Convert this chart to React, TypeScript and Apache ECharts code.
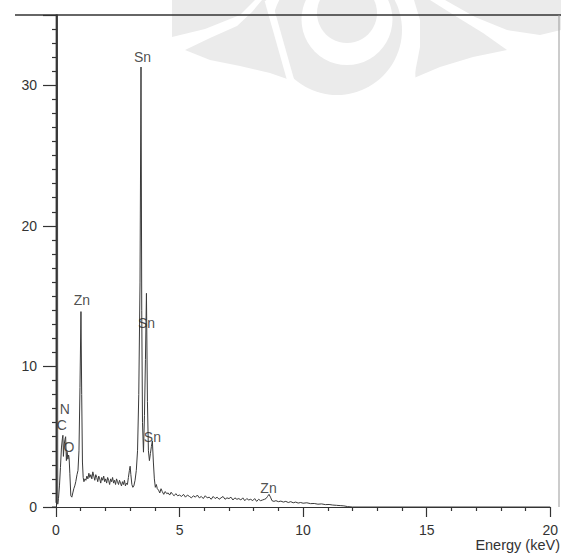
import React, { useEffect, useRef } from 'react';
import * as echarts from 'echarts';

// EDS spectrum (energy in keV, counts in arbitrary units)
const energy = [
  0.0, 0.01, 0.05, 0.07, 0.1, 0.14, 0.18, 0.22, 0.26, 0.28, 0.3, 0.33, 0.36, 0.39, 0.42, 0.45, 0.48, 0.51, 0.53, 0.56,
  0.6, 0.64, 0.68, 0.72, 0.76, 0.8, 0.85, 0.89, 0.93, 0.97, 1.01, 1.04, 1.07, 1.1, 1.13, 1.17, 1.21, 1.25, 1.29, 1.33,
  1.37, 1.41, 1.45, 1.49, 1.53, 1.57, 1.61, 1.65, 1.69, 1.73, 1.77, 1.81, 1.85, 1.89, 1.93, 1.97, 2.01, 2.05, 2.09, 2.13,
  2.17, 2.21, 2.25, 2.29, 2.33, 2.37, 2.41, 2.45, 2.49, 2.53, 2.57, 2.61, 2.65, 2.69, 2.73, 2.77, 2.81, 2.85, 2.89, 2.93,
  2.97, 3.0, 3.03, 3.07, 3.11, 3.15, 3.2, 3.25, 3.3, 3.35, 3.4, 3.44, 3.47, 3.5, 3.54, 3.58, 3.62, 3.66, 3.7, 3.74,
  3.78, 3.82, 3.86, 3.9, 3.94, 3.98, 4.02, 4.06, 4.1, 4.15, 4.2, 4.25, 4.3, 4.36, 4.42, 4.48, 4.54, 4.6, 4.66, 4.72,
  4.78, 4.85, 4.92, 5.0, 5.08, 5.16, 5.24, 5.32, 5.4, 5.48, 5.56, 5.64, 5.72, 5.8, 5.88, 5.96, 6.04, 6.12, 6.2, 6.28,
  6.36, 6.44, 6.52, 6.6, 6.68, 6.76, 6.84, 6.92, 7.0, 7.08, 7.16, 7.24, 7.32, 7.4, 7.48, 7.56, 7.64, 7.72, 7.8, 7.88,
  7.96, 8.04, 8.12, 8.2, 8.28, 8.36, 8.44, 8.5, 8.56, 8.62, 8.68, 8.74, 8.82, 8.9, 9.0, 9.1, 9.2, 9.3, 9.4, 9.5,
  9.6, 9.7, 9.8, 9.9, 10.0, 10.15, 10.3, 10.45, 10.6, 10.75, 10.9, 11.05, 11.2, 11.35, 11.5, 11.65, 11.8, 12.0, 20.0,
];
const counts = [
  0.3, 60, 60, 0.2, 0.6, 1.5, 2.8, 4.2, 4.9, 5.1, 3.6, 4.4, 4.8, 5.0, 3.3, 3.9, 3.4, 3.7, 3.5, 2.4,
  0.8, 0.7, 1.0, 1.3, 1.5, 1.8, 2.3, 2.6, 4.0, 8.5, 13.9, 8.0, 3.2, 2.1, 1.8, 2.0, 1.9, 2.2, 2.0, 2.4,
  2.1, 2.3, 2.0, 2.5, 2.2, 1.9, 2.3, 2.1, 1.8, 2.2, 2.0, 1.7, 2.1, 1.9, 2.2, 1.8, 2.0, 1.7, 2.1, 1.9,
  1.6, 2.0, 1.8, 2.1, 1.7, 1.9, 1.6, 2.0, 1.8, 1.6, 1.9, 1.7, 1.5, 1.8, 1.6, 1.9, 1.5, 1.7, 1.6, 2.1,
  2.6, 2.9, 2.3, 1.6, 1.4, 1.5, 1.9, 2.6, 4.0, 8.0, 16.0, 31.3, 14.0, 6.0, 3.9, 6.5, 10.5, 15.2, 7.5, 4.0,
  3.3, 3.8, 4.3, 4.7, 3.2, 2.0, 1.4, 1.6, 1.3, 1.2, 1.0, 1.3, 1.1, 0.9, 1.1, 0.95, 1.0, 0.85, 1.05, 0.9,
  0.8, 0.95, 0.8, 0.85, 0.75, 0.9, 0.7, 0.85, 0.75, 0.65, 0.8, 0.7, 0.85, 0.65, 0.75, 0.6, 0.8, 0.65, 0.7, 0.55,
  0.75, 0.6, 0.7, 0.55, 0.65, 0.75, 0.55, 0.65, 0.6, 0.7, 0.5, 0.65, 0.55, 0.6, 0.5, 0.65, 0.45, 0.6, 0.5, 0.55,
  0.45, 0.6, 0.4, 0.55, 0.45, 0.5, 0.55, 0.6, 0.75, 0.9, 0.7, 0.45, 0.4, 0.45, 0.38, 0.42, 0.35, 0.4, 0.32, 0.38,
  0.3, 0.35, 0.28, 0.32, 0.27, 0.3, 0.24, 0.25, 0.2, 0.22, 0.17, 0.18, 0.14, 0.12, 0.1, 0.08, 0.03, 0.0, 0.0,
];

// Peak annotations (label centre positions)
const peakNames = ['N', 'C', 'O', 'Zn', 'Sn', 'Sn', 'Sn', 'Zn'];
const peakLabelX = [0.36, 0.24, 0.52, 1.05, 3.5, 3.66, 3.9, 8.6];
const peakLabelY = [7.0, 5.8, 4.3, 14.7, 32.0, 13.1, 5.0, 1.35];

const xMin = 0;
const xMax = 20;
const xStep = 5;
const yMin = 0;
const yMax = 35;
const yStep = 10;
const xTitle = 'Energy (keV)';

const WM = '#ebebeb';
const INK = '#333333';
const FONT = '"Liberation Sans", Arial, sans-serif';

export default function App() {
  const ref = useRef<HTMLDivElement>(null);
  useEffect(() => {
    if (!ref.current) return;
    const chart = echarts.init(ref.current, undefined, { renderer: 'svg' });
    const wmPoly = (points: number[][]) => ({ type: 'polygon', z: -10, silent: true, shape: { points }, style: { fill: WM } });
    chart.setOption({
      animation: false,
      backgroundColor: '#ffffff',
      textStyle: { fontFamily: FONT },
      grid: { left: 56, right: 8, top: 15, bottom: 48, show: false },
      xAxis: {
        type: 'value',
        min: xMin,
        max: xMax,
        interval: xStep,
        axisLine: { show: true, lineStyle: { color: INK, width: 1 } },
        axisTick: { show: true, inside: false, length: 10, lineStyle: { color: INK, width: 1.2 } },
        minorTick: { show: true, splitNumber: 5, length: 4, lineStyle: { color: INK, width: 1.2 } },
        axisLabel: { margin: 16, fontSize: 14, color: INK, fontFamily: FONT },
        splitLine: { show: false },
        minorSplitLine: { show: false },
      },
      yAxis: {
        type: 'value',
        min: yMin,
        max: yMax,
        interval: yStep,
        offset: 4,
        axisLine: { show: true, lineStyle: { color: INK, width: 1 } },
        axisTick: { show: true, inside: false, length: 13, lineStyle: { color: INK, width: 1.2 } },
        minorTick: { show: true, splitNumber: 10, length: 4, lineStyle: { color: INK, width: 1.2 } },
        axisLabel: {
          margin: 15,
          fontSize: 14,
          color: INK,
          fontFamily: FONT,
          formatter: (v: number) => (v % yStep === 0 ? String(v) : ''),
        },
        splitLine: { show: false },
        minorSplitLine: { show: false },
      },
      graphic: [
        // faint watermark of the scanned page
        { type: 'circle', z: -10, silent: true, shape: { cx: 337, cy: 30, r: 65 }, style: { fill: WM } },
        { type: 'circle', z: -9, silent: true, shape: { cx: 347, cy: 19.5, r: 45.5 }, style: { fill: '#ffffff' } },
        { type: 'circle', z: -8, silent: true, shape: { cx: 347, cy: 13, r: 30 }, style: { fill: WM } },
        { type: 'line', z: -8, silent: true, shape: { x1: 268, y1: 0, x2: 292, y2: 85 }, style: { stroke: '#ffffff', lineWidth: 7 } },
        { type: 'line', z: -8, silent: true, shape: { x1: 410, y1: 0, x2: 412, y2: 80 }, style: { stroke: '#ffffff', lineWidth: 7 } },
        wmPoly([[185, 50], [210, 38], [237, 26], [252, 12], [262, 0], [266, 0], [272, 25], [282, 55], [290, 80], [270, 73], [240, 66], [210, 60]]),
        wmPoly([[172, 0], [255, 0], [240, 15], [205, 29], [172, 37]]),
        wmPoly([[414, 0], [430, 0], [457, 17], [483, 33], [507, 50], [473, 57], [440, 67], [414, 78], [420, 47], [420, 20]]),
        wmPoly([[445, 0], [561, 0], [561, 30], [540, 35], [507, 30], [475, 17]]),
        // frame lines of the scan
        { type: 'line', z: 10, silent: true, shape: { x1: 15, y1: 15, x2: 561, y2: 15 }, style: { stroke: INK, lineWidth: 1.5 } },
        { type: 'line', z: 10, silent: true, shape: { x1: 559, y1: 15, x2: 559, y2: 507 }, style: { stroke: '#999', lineWidth: 1 } },
        { type: 'line', z: 10, silent: true, shape: { x1: 52, y1: 507, x2: 56, y2: 507 }, style: { stroke: INK, lineWidth: 1 } },
        {
          type: 'text',
          z: 10,
          silent: true,
          style: { text: xTitle, x: 560, y: 545, align: 'right', verticalAlign: 'middle', fontSize: 14.5, fill: INK, fontFamily: FONT },
        },
      ],
      series: [
        {
          type: 'line',
          data: energy.map((e, i) => [e, counts[i]]),
          showSymbol: false,
          clip: true,
          lineStyle: { color: '#3a3a3a', width: 1 },
          z: 3,
        },
        {
          type: 'scatter',
          data: peakLabelX.map((x, i) => ({ value: [x, peakLabelY[i]], name: peakNames[i] })),
          symbolSize: 1,
          itemStyle: { color: 'rgba(0,0,0,0)' },
          label: { show: true, position: 'inside', formatter: '{b}', fontSize: 14, color: '#222', fontFamily: FONT },
          z: 4,
        },
      ],
    });
    return () => chart.dispose();
  }, []);
  return <div ref={ref} style={{ position: 'absolute', left: 0, top: 0, width: 561, height: 555 }} />;
}
